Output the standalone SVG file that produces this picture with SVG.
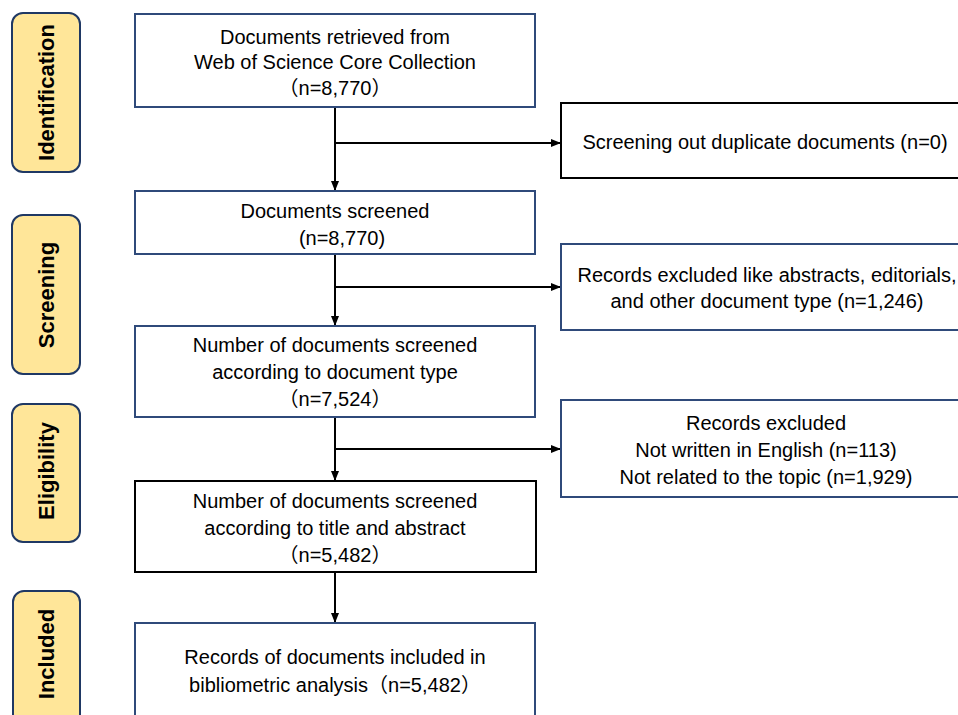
<svg xmlns="http://www.w3.org/2000/svg" width="958" height="715" viewBox="0 0 958 715">
<defs>
<marker id="arr" markerUnits="userSpaceOnUse" markerWidth="10" markerHeight="10" refX="10" refY="5" orient="auto">
<path d="M0,1 L10,5 L0,9 z" fill="#000"/>
</marker>
<style>
.phase{fill:#FFE699;stroke:#1F3864;stroke-width:2}
.ptxt{font-family:"Liberation Sans","Noto Sans CJK SC",sans-serif;font-weight:bold;font-size:22px;fill:#000;text-anchor:middle}
.nb{fill:#fff;stroke:#2F4A7A;stroke-width:2}
.kb{fill:#fff;stroke:#000;stroke-width:2}
.t{font-family:"Liberation Sans","Noto Sans CJK SC",sans-serif;font-size:20px;fill:#000;text-anchor:middle}
.c{stroke:#000;stroke-width:2;fill:none}
</style>
</defs>
<rect width="958" height="715" fill="#fff"/>

<g id="phase-identification">
<rect class="phase" x="12" y="13" width="68" height="159" rx="11"/>
<text class="ptxt" transform="translate(46,92.5) rotate(-90)" dy="0.35em">Identification</text>
</g>
<g id="phase-screening">
<rect class="phase" x="12" y="215" width="68" height="159" rx="11"/>
<text class="ptxt" transform="translate(46,295) rotate(-90)" dy="0.35em">Screening</text>
</g>
<g id="phase-eligibility">
<rect class="phase" x="12" y="404" width="68" height="138" rx="11"/>
<text class="ptxt" transform="translate(46,471) rotate(-90)" dy="0.35em">Eligibility</text>
</g>
<g id="phase-included">
<rect class="phase" x="13" y="591" width="67" height="135" rx="11"/>
<text class="ptxt" transform="translate(46,654) rotate(-90)" dy="0.35em">Included</text>
</g>

<g id="connectors">
<line class="c" x1="335" y1="107" x2="335" y2="191" marker-end="url(#arr)"/>
<line class="c" x1="335" y1="143" x2="561" y2="143" marker-end="url(#arr)"/>
<line class="c" x1="335" y1="254" x2="335" y2="326" marker-end="url(#arr)"/>
<line class="c" x1="335" y1="287" x2="561" y2="287" marker-end="url(#arr)"/>
<line class="c" x1="335" y1="417" x2="335" y2="481" marker-end="url(#arr)"/>
<line class="c" x1="335" y1="449" x2="561" y2="449" marker-end="url(#arr)"/>
<line class="c" x1="335" y1="572" x2="335" y2="623" marker-end="url(#arr)"/>
</g>

<g id="box-retrieved">
<rect class="nb" x="135" y="14" width="400" height="93"/>
<text class="t" x="335" y="44">Documents retrieved from</text>
<text class="t" x="335" y="69">Web of Science Core Collection</text>
<text class="t" x="335" y="95">（n=8,770）</text>
</g>
<g id="box-duplicates">
<rect class="kb" x="561" y="103" width="410" height="75"/>
<text class="t" x="765" y="149">Screening out duplicate documents (n=0)</text>
</g>
<g id="box-screened">
<rect class="nb" x="135" y="191" width="400" height="63"/>
<text class="t" x="335" y="218">Documents screened</text>
<text class="t" x="342" y="245">(n=8,770)</text>
</g>
<g id="box-excluded-type">
<rect class="nb" x="561" y="244" width="410" height="86"/>
<text class="t" x="767" y="282">Records excluded like abstracts, editorials,</text>
<text class="t" x="767" y="308">and other document type (n=1,246)</text>
</g>
<g id="box-doctype">
<rect class="nb" x="135" y="326" width="400" height="91"/>
<text class="t" x="335" y="352">Number of documents screened</text>
<text class="t" x="335" y="379">according to document type</text>
<text class="t" x="335" y="406">（n=7,524）</text>
</g>
<g id="box-excluded-topic">
<rect class="nb" x="561" y="400" width="410" height="97"/>
<text class="t" x="766" y="430">Records excluded</text>
<text class="t" x="766" y="457">Not written in English (n=113)</text>
<text class="t" x="766" y="484">Not related to the topic (n=1,929)</text>
</g>
<g id="box-title-abstract">
<rect class="kb" x="135" y="481" width="401" height="91"/>
<text class="t" x="335" y="508">Number of documents screened</text>
<text class="t" x="335" y="535">according to title and abstract</text>
<text class="t" x="335" y="562">（n=5,482）</text>
</g>
<g id="box-included">
<rect class="nb" x="135" y="623" width="400" height="100"/>
<text class="t" x="335" y="664">Records of documents included in</text>
<text class="t" x="335" y="692">bibliometric analysis（n=5,482）</text>
</g>
</svg>
